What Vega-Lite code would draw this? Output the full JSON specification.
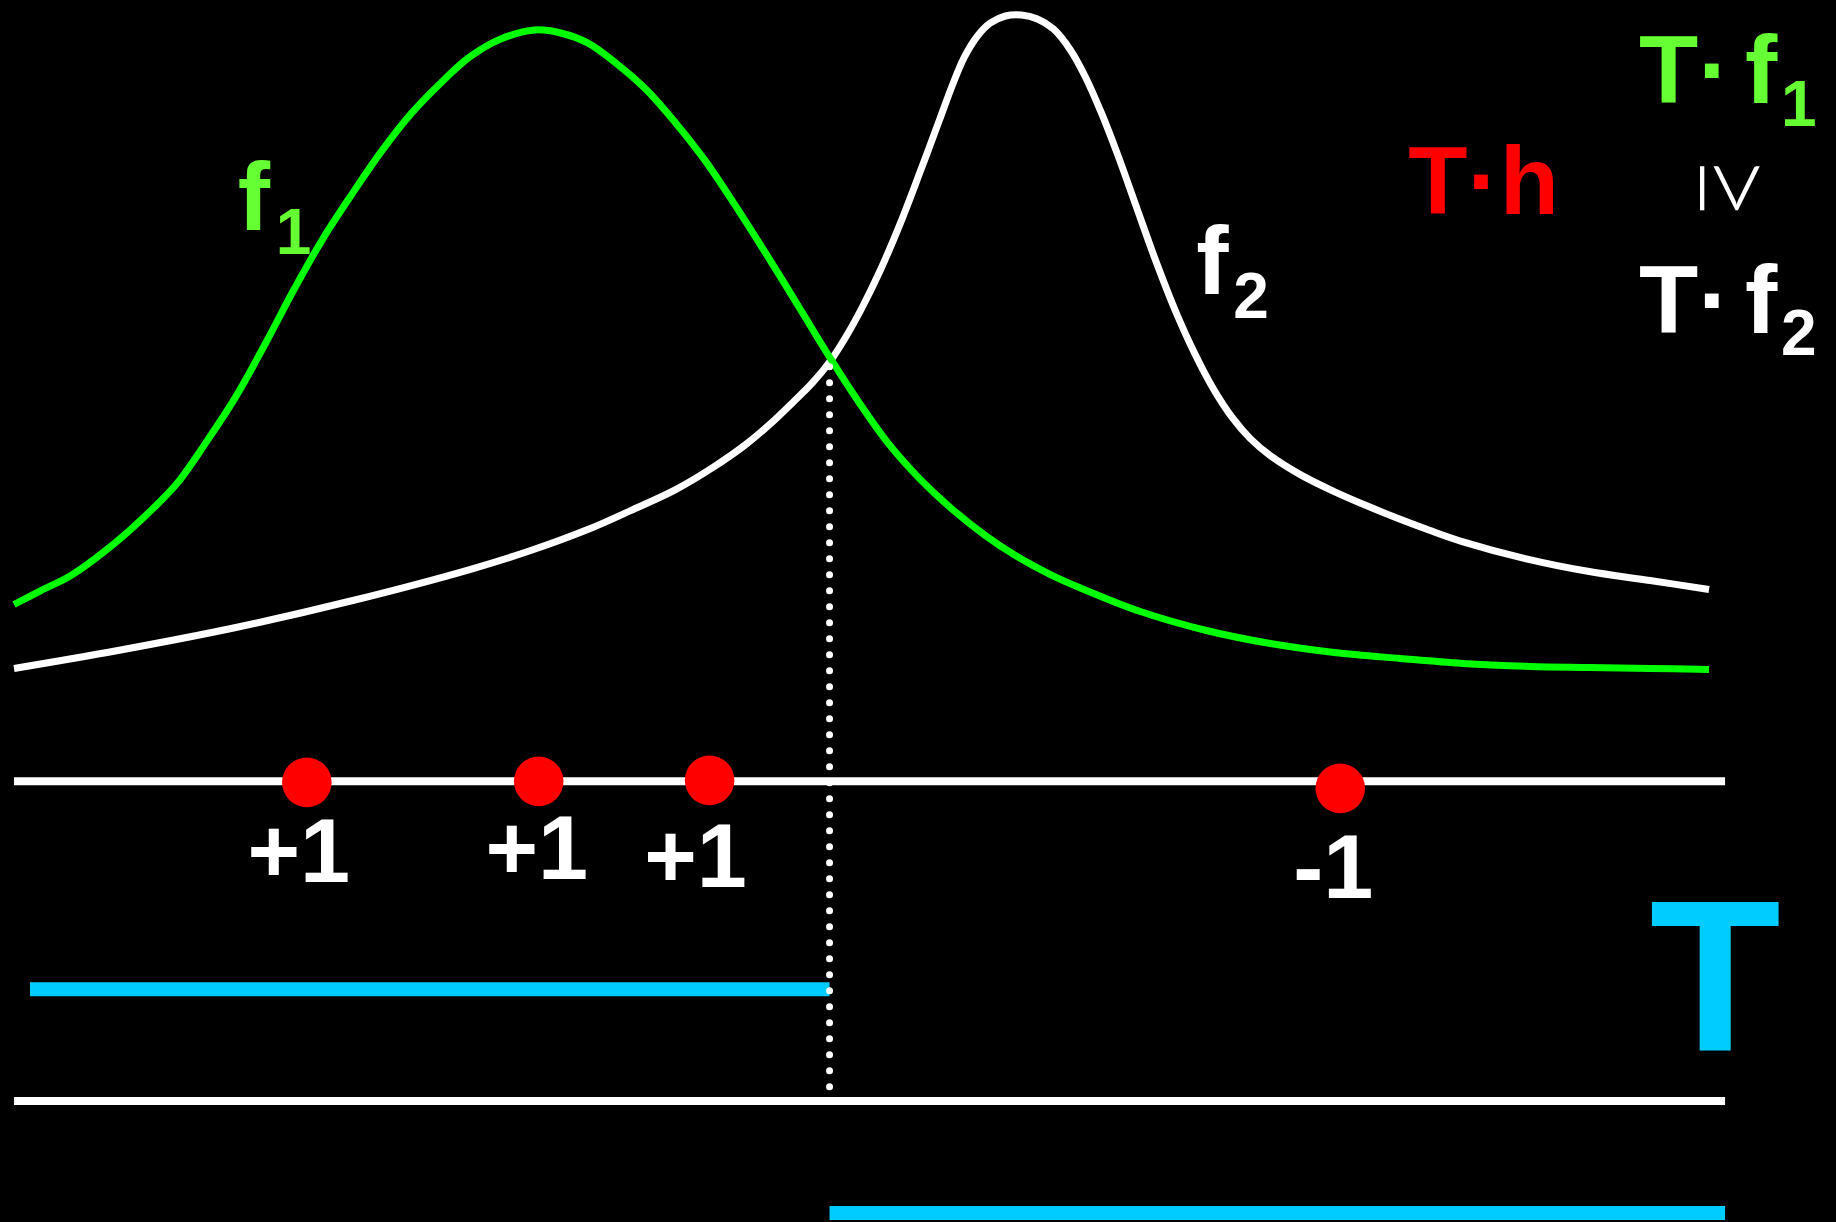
{
  "$schema": "https://vega.github.io/schema/vega-lite/v6.json",
  "width": 1836,
  "height": 1222,
  "autosize": {"type": "fit", "contains": "padding"},
  "padding": 0,
  "background": "#000000",
  "config": {"view": {"stroke": null}},
  "datasets": {
    "f1": [
      {"u": 13, "v": 604}, {"u": 40, "v": 590}, {"u": 70, "v": 575}, {"u": 117, "v": 540},
      {"u": 150, "v": 510}, {"u": 176, "v": 483}, {"u": 205, "v": 442}, {"u": 235, "v": 396},
      {"u": 265, "v": 342}, {"u": 293, "v": 289}, {"u": 322, "v": 238}, {"u": 352, "v": 192},
      {"u": 381, "v": 150}, {"u": 411, "v": 112}, {"u": 440, "v": 82}, {"u": 469, "v": 56},
      {"u": 500, "v": 38}, {"u": 534, "v": 29}, {"u": 560, "v": 32}, {"u": 587, "v": 42},
      {"u": 615, "v": 62}, {"u": 646, "v": 89}, {"u": 675, "v": 122}, {"u": 704, "v": 159},
      {"u": 733, "v": 202}, {"u": 763, "v": 249}, {"u": 797, "v": 304}, {"u": 830, "v": 358},
      {"u": 858, "v": 401}, {"u": 888, "v": 443}, {"u": 920, "v": 479}, {"u": 951, "v": 508},
      {"u": 985, "v": 535}, {"u": 1015, "v": 555}, {"u": 1050, "v": 574}, {"u": 1079, "v": 587},
      {"u": 1140, "v": 611}, {"u": 1206, "v": 630}, {"u": 1270, "v": 643}, {"u": 1334, "v": 652},
      {"u": 1400, "v": 658}, {"u": 1462, "v": 663}, {"u": 1530, "v": 666}, {"u": 1589, "v": 667},
      {"u": 1650, "v": 668}, {"u": 1709, "v": 669}
    ],
    "f2": [
      {"u": 13, "v": 668}, {"u": 117, "v": 650}, {"u": 235, "v": 627}, {"u": 352, "v": 600},
      {"u": 469, "v": 569}, {"u": 530, "v": 550}, {"u": 587, "v": 529}, {"u": 630, "v": 510},
      {"u": 675, "v": 489}, {"u": 712, "v": 467}, {"u": 745, "v": 444}, {"u": 770, "v": 423},
      {"u": 792, "v": 402}, {"u": 812, "v": 382}, {"u": 830, "v": 360}, {"u": 846, "v": 335},
      {"u": 862, "v": 306}, {"u": 880, "v": 269}, {"u": 900, "v": 222}, {"u": 920, "v": 170},
      {"u": 939, "v": 119}, {"u": 952, "v": 84}, {"u": 964, "v": 56}, {"u": 977, "v": 35},
      {"u": 990, "v": 22}, {"u": 1005, "v": 15}, {"u": 1021, "v": 14}, {"u": 1037, "v": 18},
      {"u": 1053, "v": 28}, {"u": 1070, "v": 49}, {"u": 1085, "v": 76}, {"u": 1101, "v": 112},
      {"u": 1117, "v": 153}, {"u": 1136, "v": 206}, {"u": 1155, "v": 259}, {"u": 1175, "v": 310},
      {"u": 1194, "v": 352}, {"u": 1213, "v": 388}, {"u": 1232, "v": 417}, {"u": 1250, "v": 438},
      {"u": 1270, "v": 455}, {"u": 1300, "v": 474}, {"u": 1334, "v": 491}, {"u": 1366, "v": 505},
      {"u": 1398, "v": 518}, {"u": 1430, "v": 530}, {"u": 1462, "v": 541}, {"u": 1525, "v": 558},
      {"u": 1589, "v": 571}, {"u": 1650, "v": 580}, {"u": 1709, "v": 589}
    ]
  },
  "layer": [
    {
      "data": {"name": "f2"},
      "mark": {"type": "line", "color": "#ffffff", "strokeWidth": 7, "interpolate": "catmull-rom"},
      "encoding": {
        "x": {"field": "u", "type": "quantitative", "axis": null, "scale": {"domain": [0, 1836], "nice": false, "zero": false}},
        "y": {"field": "v", "type": "quantitative", "axis": null, "scale": {"domain": [0, 1222], "nice": false, "zero": false, "reverse": true}}
      }
    },
    {
      "data": {"name": "f1"},
      "mark": {"type": "line", "color": "#00ff00", "strokeWidth": 7, "interpolate": "catmull-rom"},
      "encoding": {
        "x": {"field": "u", "type": "quantitative"},
        "y": {"field": "v", "type": "quantitative"}
      }
    },
    {
      "data": {"values": [
        {"u": 13, "u2": 1725, "v": 781},
        {"u": 13, "u2": 1725, "v": 1101}
      ]},
      "mark": {"type": "rule", "color": "#ffffff", "strokeWidth": 8},
      "encoding": {
        "x": {"field": "u", "type": "quantitative"},
        "x2": {"field": "u2"},
        "y": {"field": "v", "type": "quantitative"}
      }
    },
    {
      "data": {"values": [
        {"u": 29, "u2": 829, "v": 989},
        {"u": 829, "u2": 1725, "v": 1213}
      ]},
      "mark": {"type": "rule", "color": "#00ccff", "strokeWidth": 14},
      "encoding": {
        "x": {"field": "u", "type": "quantitative"},
        "x2": {"field": "u2"},
        "y": {"field": "v", "type": "quantitative"}
      }
    },
    {
      "data": {"values": [{"u": 829, "v": 366, "v2": 1092}]},
      "mark": {"type": "rule", "color": "#ffffff", "strokeWidth": 7, "strokeDash": [0, 16], "strokeCap": "round"},
      "encoding": {
        "x": {"field": "u", "type": "quantitative"},
        "y": {"field": "v", "type": "quantitative"},
        "y2": {"field": "v2"}
      }
    },
    {
      "data": {"values": [
        {"u": 306, "v": 782},
        {"u": 538, "v": 781},
        {"u": 709, "v": 780},
        {"u": 1340, "v": 788}
      ]},
      "mark": {"type": "circle", "color": "#ff0000", "opacity": 1, "size": 2460},
      "encoding": {
        "x": {"field": "u", "type": "quantitative"},
        "y": {"field": "v", "type": "quantitative"}
      }
    },
    {
      "data": {"values": [
        {"u": 298, "v": 882, "label": "+1"},
        {"u": 536, "v": 879, "label": "+1"},
        {"u": 695, "v": 887, "label": "+1"},
        {"u": 1333, "v": 898, "label": "-1"}
      ]},
      "mark": {"type": "text", "color": "#ffffff", "font": "Liberation Sans", "fontWeight": "bold", "fontSize": 90, "align": "center", "baseline": "alphabetic"},
      "encoding": {
        "x": {"field": "u", "type": "quantitative"},
        "y": {"field": "v", "type": "quantitative"},
        "text": {"field": "label"}
      }
    },
    {
      "data": {"values": [
        {"u": 1639, "v": 102, "label": "T·"},
        {"u": 1745, "v": 102, "label": "f"},
        {"u": 237, "v": 229, "label": "f"}
      ]},
      "mark": {"type": "text", "color": "#66ff33", "font": "Liberation Sans", "fontWeight": "bold", "fontSize": 97, "align": "left", "baseline": "alphabetic"},
      "encoding": {
        "x": {"field": "u", "type": "quantitative"},
        "y": {"field": "v", "type": "quantitative"},
        "text": {"field": "label"}
      }
    },
    {
      "data": {"values": [
        {"u": 1781, "v": 125, "label": "1"},
        {"u": 275, "v": 253, "label": "1"}
      ]},
      "mark": {"type": "text", "color": "#66ff33", "font": "Liberation Sans", "fontWeight": "bold", "fontSize": 64, "align": "left", "baseline": "alphabetic"},
      "encoding": {
        "x": {"field": "u", "type": "quantitative"},
        "y": {"field": "v", "type": "quantitative"},
        "text": {"field": "label"}
      }
    },
    {
      "data": {"values": [{"u": 1408, "v": 213, "label": "T·h"}]},
      "mark": {"type": "text", "color": "#ff0000", "font": "Liberation Sans", "fontWeight": "bold", "fontSize": 97, "align": "left", "baseline": "alphabetic"},
      "encoding": {
        "x": {"field": "u", "type": "quantitative"},
        "y": {"field": "v", "type": "quantitative"},
        "text": {"field": "label"}
      }
    },
    {
      "data": {"values": [
        {"u": 1639, "v": 332, "label": "T·"},
        {"u": 1745, "v": 332, "label": "f"},
        {"u": 1196, "v": 293, "label": "f"}
      ]},
      "mark": {"type": "text", "color": "#ffffff", "font": "Liberation Sans", "fontWeight": "bold", "fontSize": 97, "align": "left", "baseline": "alphabetic"},
      "encoding": {
        "x": {"field": "u", "type": "quantitative"},
        "y": {"field": "v", "type": "quantitative"},
        "text": {"field": "label"}
      }
    },
    {
      "data": {"values": [
        {"u": 1781, "v": 354, "label": "2"},
        {"u": 1233, "v": 317, "label": "2"}
      ]},
      "mark": {"type": "text", "color": "#ffffff", "font": "Liberation Sans", "fontWeight": "bold", "fontSize": 64, "align": "left", "baseline": "alphabetic"},
      "encoding": {
        "x": {"field": "u", "type": "quantitative"},
        "y": {"field": "v", "type": "quantitative"},
        "text": {"field": "label"}
      }
    },
    {
      "data": {"values": [{"u": 1730, "v": 187, "label": "≥"}]},
      "mark": {"type": "text", "color": "#ffffff", "font": "Lato", "fontWeight": 300, "fontSize": 117, "align": "center", "baseline": "middle", "angle": 90},
      "encoding": {
        "x": {"field": "u", "type": "quantitative"},
        "y": {"field": "v", "type": "quantitative"},
        "text": {"field": "label"}
      }
    },
    {
      "data": {"values": [{"u": 1715, "v": 1050, "label": "T"}]},
      "mark": {"type": "text", "color": "#00ccff", "font": "Liberation Sans", "fontWeight": "bold", "fontSize": 215, "align": "center", "baseline": "alphabetic"},
      "encoding": {
        "x": {"field": "u", "type": "quantitative"},
        "y": {"field": "v", "type": "quantitative"},
        "text": {"field": "label"}
      }
    }
  ]
}
